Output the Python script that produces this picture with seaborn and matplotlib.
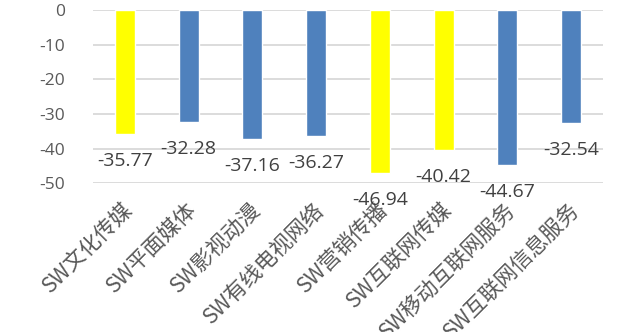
import matplotlib
matplotlib.use("Agg")
import matplotlib.pyplot as plt
import seaborn as sns
import pandas as pd
from matplotlib.transforms import ScaledTranslation

categories = ["SW文化传媒", "SW平面媒体", "SW影视动漫", "SW有线电视网络",
              "SW营销传播", "SW互联网传媒", "SW移动互联网服务", "SW互联网信息服务"]
values = [-35.77, -32.28, -37.16, -36.27, -46.94, -40.42, -44.67, -32.54]
group = ["highlight", "normal", "normal", "normal",
         "highlight", "highlight", "normal", "normal"]
y_ticks = [0, -10, -20, -30, -40, -50]

palette = {"highlight": "#FFFF00", "normal": "#4F81BD"}

df = pd.DataFrame({"category": categories, "value": values, "group": group})

sns.set_theme(style="white")
plt.rcParams["font.family"] = ["Noto Sans CJK SC", "DejaVu Sans"]

fig = plt.figure(figsize=(6.19, 3.32), dpi=100)
ax = fig.add_axes([93 / 619, 1 - 183.3 / 332, (603 - 93) / 619, (183.3 - 10) / 332])

sns.barplot(data=df, x="category", y="value", hue="group", palette=palette,
            width=0.31, dodge=False, legend=False, ax=ax, saturation=1)

ax.set_ylim(-50, 0)
ax.set_yticks(y_ticks)
ax.set_yticklabels([str(t) for t in y_ticks], family=["Open Sans", "DejaVu Sans"],
                   fontsize=12.5, color="#595959")
ax.tick_params(axis="y", length=0, pad=20)
ax.tick_params(axis="x", length=0, pad=0)
ax.grid(axis="y", color="#D9D9D9", linewidth=1.3)
ax.set_axisbelow(True)
for s in ax.spines.values():
    s.set_visible(False)
ax.set_xlabel("")
ax.set_ylabel("")
ax.set_xlim(-0.5, len(categories) - 0.5)

ax.set_xticks(range(len(categories)))
ax.set_xticklabels(categories, rotation=45, ha="right", va="center",
                   rotation_mode="anchor", fontsize=15.5, color="#595959",
                   fontweight="light")
offset = ScaledTranslation(5 / 100, -23 / 100, fig.dpi_scale_trans)
for lbl in ax.get_xticklabels():
    lbl.set_transform(lbl.get_transform() + offset)

for i, v in enumerate(values):
    ax.annotate(f"{v:.2f}", xy=(i, v), xytext=(0, -27), textcoords="offset pixels",
                ha="center", va="center", fontsize=14, color="#404040",
                family=["Open Sans", "DejaVu Sans"], annotation_clip=False)

fig.savefig("out.png", dpi=100)
